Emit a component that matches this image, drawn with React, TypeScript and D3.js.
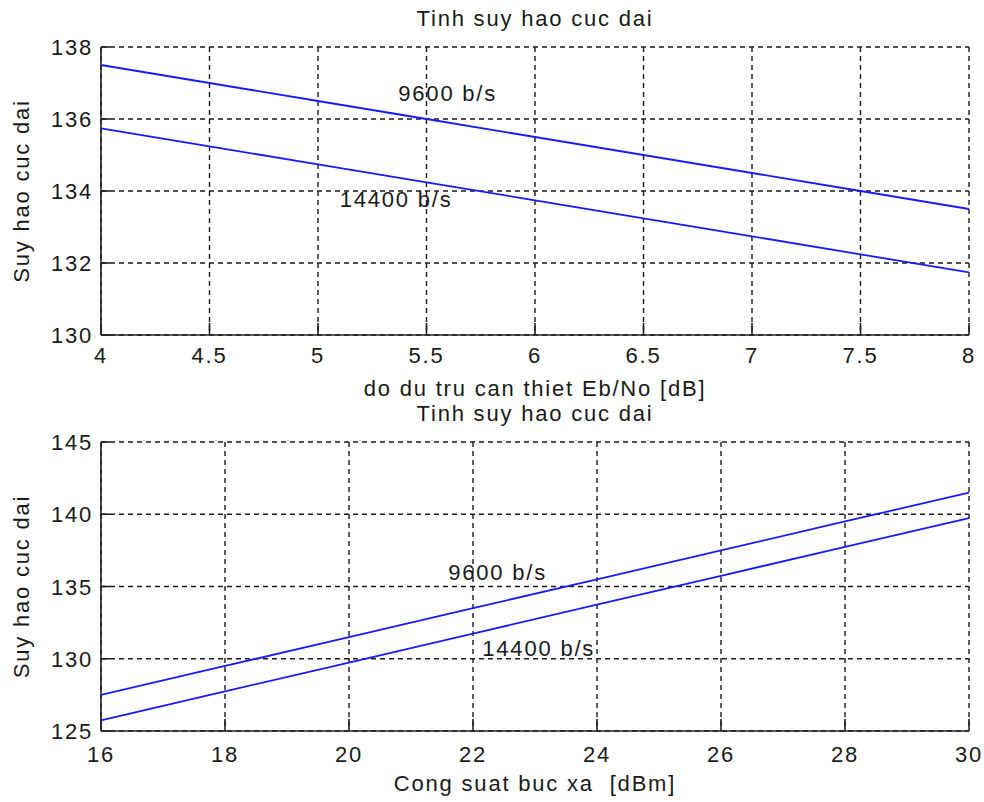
import React from "react";
import * as d3 from "d3";

// ---- Data ----
const ebNo = [4, 4.5, 5, 5.5, 6, 6.5, 7, 7.5, 8];
const loss9600Top = [137.5, 137.0, 136.5, 136.0, 135.5, 135.0, 134.5, 134.0, 133.5];
const loss14400Top = [135.74, 135.24, 134.74, 134.24, 133.74, 133.24, 132.74, 132.24, 131.74];
const topXTicks = [4, 4.5, 5, 5.5, 6, 6.5, 7, 7.5, 8];
const topYTicks = [130, 132, 134, 136, 138];

const power = [16, 18, 20, 22, 24, 26, 28, 30];
const loss9600Bot = [127.5, 129.5, 131.5, 133.5, 135.5, 137.5, 139.5, 141.5];
const loss14400Bot = [125.74, 127.74, 129.74, 131.74, 133.74, 135.74, 137.74, 139.74];
const botXTicks = [16, 18, 20, 22, 24, 26, 28, 30];
const botYTicks = [125, 130, 135, 140, 145];

const titleText = "Tinh suy hao cuc dai";
const yLabelText = "Suy hao cuc dai";
const topXLabel = "do du tru can thiet Eb/No [dB]";
const botXLabel = "Cong suat buc xa  [dBm]";

const topAnnotations = [
  { text: "9600 b/s", x: 5.37, y: 136.72 },
  { text: "14400 b/s", x: 5.1, y: 133.78 },
];
const botAnnotations = [
  { text: "9600 b/s", x: 21.6, y: 136.0 },
  { text: "14400 b/s", x: 22.15, y: 130.74 },
];

const FONT = "'Liberation Sans', Arial, Helvetica, sans-serif";
const FS = 22;
const LS = "1.8px";

type PanelProps = {
  top: number;
  bottom: number;
  xs: number[];
  s1: number[];
  s2: number[];
  xDomain: [number, number];
  yDomain: [number, number];
  xTicks: number[];
  yTicks: number[];
  xLabel: string;
  xLabelY: number;
  titleY: number;
  annotations: { text: string; x: number; y: number }[];
  tickLabelOffset: number;
};

const LEFT = 101;
const RIGHT = 969;

function Panel(p: PanelProps) {
  const x = d3.scaleLinear().domain(p.xDomain).range([LEFT, RIGHT]);
  const y = d3.scaleLinear().domain(p.yDomain).range([p.bottom, p.top]);
  const line = d3
    .line<number>()
    .x((_, i) => x(p.xs[i]))
    .y((d) => y(d));
  const fmt = (v: number) => String(v);
  const cx = (LEFT + RIGHT) / 2;
  const cy = (p.top + p.bottom) / 2;
  const dash = "5,4";
  const gridColor = "#1a1a1a";
  const txt = { fontFamily: FONT, fontSize: FS, letterSpacing: LS, fill: "#1a1a1a" };
  return (
    <g>
      {p.xTicks.map((t) => (
        <line
          key={"gx" + t}
          x1={x(t)}
          x2={x(t)}
          y1={p.top}
          y2={p.bottom}
          stroke={gridColor}
          strokeWidth={1.4}
          strokeDasharray={dash}
        />
      ))}
      {p.yTicks.map((t) => (
        <line
          key={"gy" + t}
          x1={LEFT}
          x2={RIGHT}
          y1={y(t)}
          y2={y(t)}
          stroke={gridColor}
          strokeWidth={1.4}
          strokeDasharray={dash}
        />
      ))}
      <line x1={LEFT} x2={LEFT} y1={p.top} y2={p.bottom} stroke="#222" strokeWidth={1.6} />
      <line x1={LEFT} x2={RIGHT} y1={p.bottom} y2={p.bottom} stroke="#222" strokeWidth={1.6} />
      {p.xTicks.map((t) => (
        <line key={"tx" + t} x1={x(t)} x2={x(t)} y1={p.bottom} y2={p.bottom - 12} stroke="#222" strokeWidth={1.6} />
      ))}
      {p.yTicks.map((t) => (
        <line key={"ty" + t} x1={LEFT} x2={LEFT + 9} y1={y(t)} y2={y(t)} stroke="#222" strokeWidth={1.6} />
      ))}
      <path d={line(p.s1) || ""} fill="none" stroke="#1a1aff" strokeWidth={1.8} />
      <path d={line(p.s2) || ""} fill="none" stroke="#1a1aff" strokeWidth={1.8} />
      {p.xTicks.map((t) => (
        <text key={"lx" + t} x={x(t)} y={p.bottom + p.tickLabelOffset} textAnchor="middle" {...txt}>
          {fmt(t)}
        </text>
      ))}
      {p.yTicks.map((t) => (
        <text key={"ly" + t} x={LEFT - 8} y={y(t) + 8} textAnchor="end" {...txt}>
          {fmt(t)}
        </text>
      ))}
      {p.annotations.map((a) => (
        <text key={a.text} x={x(a.x)} y={y(a.y) + 8} {...txt}>
          {a.text}
        </text>
      ))}
      <text x={cx} y={p.titleY} textAnchor="middle" {...txt}>
        {titleText}
      </text>
      <text x={cx} y={p.xLabelY} textAnchor="middle" style={{ whiteSpace: "pre" }} {...txt}>
        {p.xLabel}
      </text>
      <text transform={`translate(29,${cy}) rotate(-90)`} textAnchor="middle" {...txt}>
        {yLabelText}
      </text>
    </g>
  );
}

export default function App() {
  return (
    <svg
      width={984}
      height={802}
      style={{ position: "absolute", left: 0, top: 0, display: "block", background: "#fff" }}
    >
      <rect width={984} height={802} fill="#fff" />
      <Panel
        top={47}
        bottom={335}
        xs={ebNo}
        s1={loss9600Top}
        s2={loss14400Top}
        xDomain={[4, 8]}
        yDomain={[130, 138]}
        xTicks={topXTicks}
        yTicks={topYTicks}
        xLabel={topXLabel}
        xLabelY={396}
        titleY={26}
        annotations={topAnnotations}
        tickLabelOffset={28}
      />
      <Panel
        top={442}
        bottom={731}
        xs={power}
        s1={loss9600Bot}
        s2={loss14400Bot}
        xDomain={[16, 30]}
        yDomain={[125, 145]}
        xTicks={botXTicks}
        yTicks={botYTicks}
        xLabel={botXLabel}
        xLabelY={791}
        titleY={421}
        annotations={botAnnotations}
        tickLabelOffset={31}
      />
    </svg>
  );
}
